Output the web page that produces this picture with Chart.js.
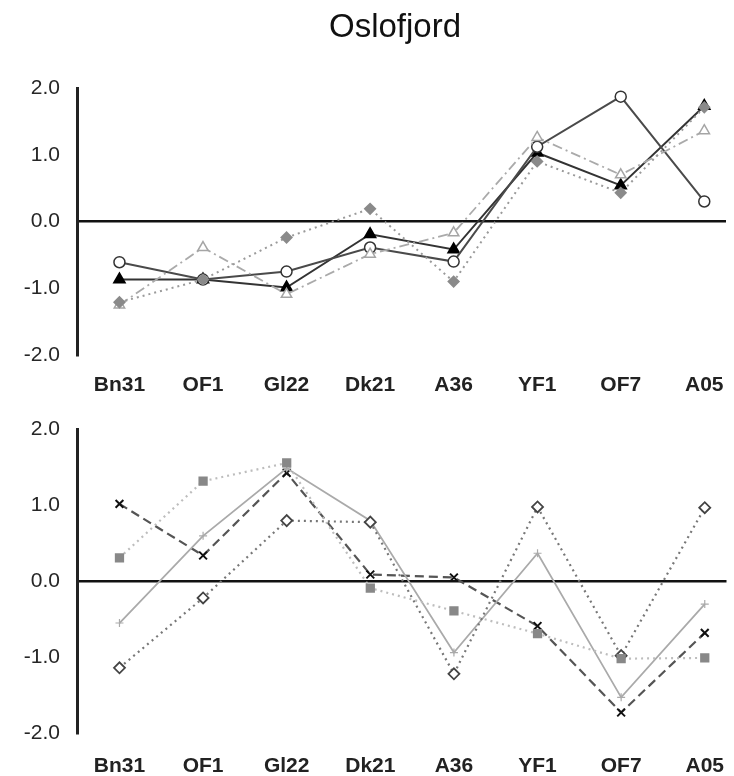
<!DOCTYPE html>
<html>
<head>
<meta charset="utf-8">
<script src="https://cdn.jsdelivr.net/npm/chart.js@4.4.0/dist/chart.umd.min.js"></script>
<style>
body { margin: 0; background: #fff; overflow: hidden; }
canvas { position: absolute; left: 0; }
#topChart { top: 0; }
#bottomChart { top: 400px; }
</style>
</head>
<body>
<canvas id="topChart" width="734" height="400"></canvas>
<canvas id="bottomChart" width="734" height="376"></canvas>
<script>
var stations = ['Bn31', 'OF1', 'Gl22', 'Dk21', 'A36', 'YF1', 'OF7', 'A05'];
var yTicks = [-2, -1, 0, 1, 2];
var chartTitle = 'Oslofjord';

// upper panel
var openCircles   = [-0.61, -0.87, -0.75, -0.39, -0.60, 1.12, 1.87, 0.30];
var filledTris    = [-0.87, -0.87, -0.99, -0.19, -0.42, 1.03, 0.54, 1.73];
var openTris      = [-1.25, -0.39, -1.09, -0.49, -0.17, 1.26, 0.70, 1.36];
var greyDiamonds  = [-1.21, -0.87, -0.24, 0.19, -0.90, 0.90, 0.43, 1.71];

// lower panel
var greySquares   = [0.31, 1.32, 1.56, -0.09, -0.39, -0.69, -1.02, -1.01];
var greyPlus      = [-0.55, 0.60, 1.49, 0.80, -0.94, 0.37, -1.53, -0.30];
var blackCross    = [1.02, 0.34, 1.43, 0.09, 0.05, -0.59, -1.73, -0.68];
var openDiamonds  = [-1.14, -0.22, 0.80, 0.78, -1.22, 0.98, -0.98, 0.97];

function pts(arr){
    return arr.map(function(v, i){ return {x: i, y: v}; });
}

function makeOptions(padTop, xAxisHeight, labelPad){
    return {
        responsive: false,
        animation: false,
        layout: { padding: { top: padTop, left: 0, right: 0, bottom: 0 } },
        plugins: { legend: { display: false }, tooltip: { enabled: false } },
        elements: { line: { tension: 0 } },
        scales: {
            x: {
                type: 'linear',
                min: -0.508,
                max: 7.26,
                grid: { display: false, drawTicks: false },
                border: { display: false },
                afterBuildTicks: function(s){ s.ticks = stations.map(function(_, i){ return {value: i}; }); },
                afterFit: function(s){
                    s.height = xAxisHeight;
                    s.paddingLeft = 0;
                    s.paddingRight = 0;
                },
                ticks: {
                    padding: labelPad,
                    color: '#222',
                    maxRotation: 0,
                    autoSkip: false,
                    font: { family: 'Liberation Sans', size: 21, weight: 'bold' },
                    callback: function(v){ return stations[v]; }
                }
            },
            y: {
                min: -2,
                max: 2,
                afterBuildTicks: function(s){ s.ticks = yTicks.map(function(v){ return {value: v}; }); },
                afterFit: function(s){ s.width = 77; },
                grid: {
                    drawTicks: false,
                    lineWidth: 2.5,
                    color: function(c){ return (c.tick && c.tick.value === 0) ? '#111' : 'rgba(0,0,0,0)'; }
                },
                border: { display: true, color: '#222', width: 3 },
                ticks: {
                    padding: 17,
                    color: '#262626',
                    font: { family: 'Liberation Sans', size: 21 },
                    callback: function(v){ return v.toFixed(1); }
                }
            }
        }
    };
}

var titlePlugin = {
    id: 'panelTitle',
    afterDraw: function(chart){
        var ctx = chart.ctx;
        ctx.save();
        ctx.font = '33px "Liberation Sans"';
        ctx.fillStyle = '#111';
        ctx.textAlign = 'center';
        ctx.fillText(chartTitle, 395, 37);
        ctx.restore();
    }
};

var topChart = new Chart(document.getElementById('topChart'), {
    type: 'line',
    data: {
        datasets: [
            {
                data: pts(greyDiamonds),
                borderColor: '#9a9a9a', borderWidth: 2, borderDash: [2, 4],
                pointStyle: 'rectRot', pointRadius: 5,
                pointBackgroundColor: '#8a8a8a', pointBorderColor: '#8a8a8a'
            },
            {
                data: pts(openTris),
                borderColor: '#aaaaaa', borderWidth: 1.8, borderDash: [10, 4, 2, 4],
                pointStyle: 'triangle', pointRadius: 6,
                pointBackgroundColor: '#fff', pointBorderColor: '#a5a5a5', pointBorderWidth: 1.5
            },
            {
                data: pts(openCircles),
                borderColor: '#4a4a4a', borderWidth: 2,
                pointStyle: 'circle', pointRadius: 5.5,
                pointBackgroundColor: '#fff', pointBorderColor: '#333', pointBorderWidth: 1.5
            },
            {
                data: pts(filledTris),
                borderColor: '#333', borderWidth: 2,
                pointStyle: 'triangle', pointRadius: 6,
                pointBackgroundColor: '#000', pointBorderColor: '#000'
            }
        ]
    },
    options: makeOptions(88, 45, 18),
    plugins: [titlePlugin]
});

var bottomChart = new Chart(document.getElementById('bottomChart'), {
    type: 'line',
    data: {
        datasets: [
            {
                data: pts(greySquares),
                borderColor: '#bdbdbd', borderWidth: 2.2, borderDash: [2, 4],
                pointStyle: 'rect', pointRadius: 5,
                pointBackgroundColor: '#888', pointBorderColor: '#888'
            },
            {
                data: pts(openDiamonds),
                borderColor: '#777', borderWidth: 2.2, borderDash: [2, 4],
                pointStyle: 'rectRot', pointRadius: 5.5,
                pointBackgroundColor: '#fff', pointBorderColor: '#444', pointBorderWidth: 1.8
            },
            {
                data: pts(greyPlus),
                borderColor: '#aaaaaa', borderWidth: 1.8,
                pointStyle: 'cross', pointRadius: 4,
                pointBorderColor: '#aaa', pointBorderWidth: 1.2
            },
            {
                data: pts(blackCross),
                borderColor: '#555', borderWidth: 2.2, borderDash: [9, 5],
                pointStyle: 'crossRot', pointRadius: 5.5,
                pointBorderColor: '#111', pointBorderWidth: 2
            }
        ]
    },
    options: makeOptions(28, 43, 21)
});
</script>
</body>
</html>
